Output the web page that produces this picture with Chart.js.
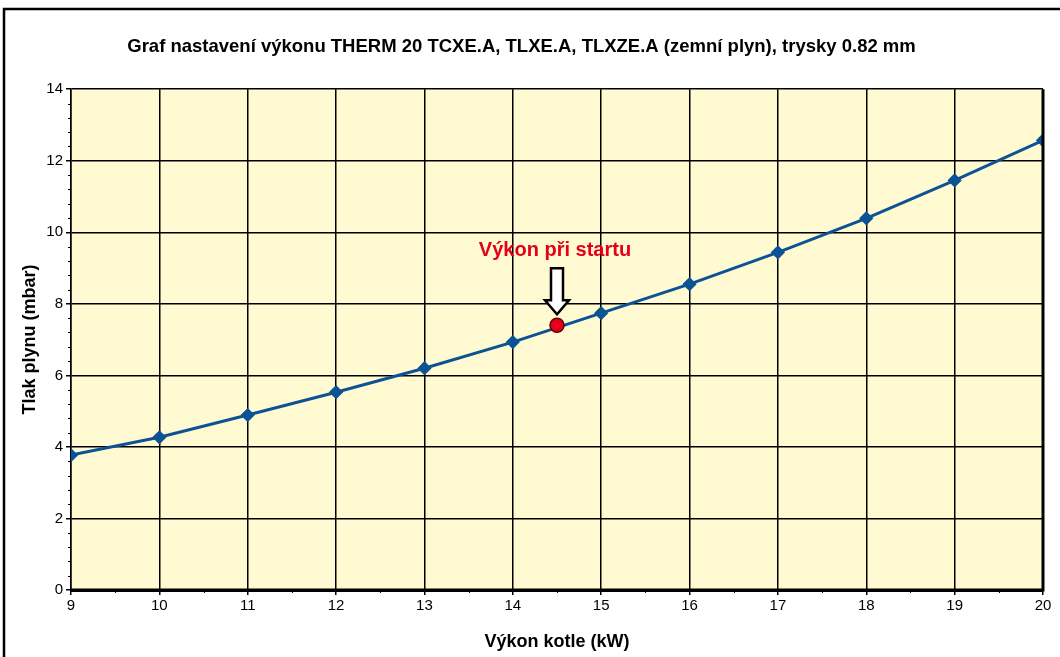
<!DOCTYPE html>
<html>
<head>
<meta charset="utf-8">
<script src="https://cdn.jsdelivr.net/npm/chart.js@4.4.1/dist/chart.umd.min.js"></script>
<style>
  html, body { margin: 0; padding: 0; background: #fff; }
  #wrap { width: 1060px; height: 657px; }
</style>
</head>
<body>
<div id="wrap"><canvas id="powerChart" width="1060" height="657"></canvas></div>
<script>
// boiler output (kW) vs. gas pressure (mbar)
const powerKw = [9, 10, 11, 12, 13, 14, 15, 16, 17, 18, 19, 20];
const pressureMbar = [3.77, 4.27, 4.89, 5.53, 6.20, 6.93, 7.74, 8.55, 9.44, 10.39, 11.45, 12.57];

// start-up setting point
const startKw = [14.5];
const startMbar = [7.4];
const startLabel = "Výkon při startu";

const titleText = "Graf nastavení výkonu THERM 20 TCXE.A, TLXE.A, TLXZE.A (zemní plyn), trysky 0.82 mm";
const xTitle = "Výkon kotle (kW)";
const yTitle = "Tlak plynu (mbar)";

const FONT = "Arial, 'Liberation Sans', sans-serif";

// frame, plot background, minor ticks and start arrow
const decorPlugin = {
  id: "decor",
  beforeDraw(chart) {
    const { ctx, chartArea: a } = chart;
    ctx.save();
    ctx.fillStyle = "#fff";
    ctx.fillRect(0, 0, chart.width, chart.height);
    ctx.strokeStyle = "#000";
    ctx.lineWidth = 2.5;
    ctx.beginPath();
    ctx.moveTo(4, chart.height + 5);
    ctx.lineTo(4, 9);
    ctx.lineTo(chart.width + 5, 9);
    ctx.stroke();
    ctx.fillStyle = "#FFFAD2";
    ctx.fillRect(a.left, a.top, a.right - a.left, a.bottom - a.top);
    ctx.restore();
  },
  afterDraw(chart) {
    const { ctx, chartArea: a, scales } = chart;
    const x = scales.x, y = scales.y;
    ctx.save();
    ctx.strokeStyle = "#000";
    ctx.lineWidth = 1;
    // minor ticks on y (0.4 mbar) and x (0.5 kW)
    ctx.beginPath();
    for (let i = 0; i <= 35; i++) {
      if (i % 5 === 0) continue;
      const py = Math.round(y.getPixelForValue(i * 0.4)) + 0.5;
      ctx.moveTo(a.left - 3, py);
      ctx.lineTo(a.left, py);
    }
    for (let i = 0; i <= 22; i++) {
      if (i % 2 === 0) continue;
      const px = Math.round(x.getPixelForValue(9 + i * 0.5)) + 0.5;
      ctx.moveTo(px, a.bottom);
      ctx.lineTo(px, a.bottom + 3);
    }
    ctx.stroke();
    // heavier right and bottom plot edges
    ctx.lineWidth = 3;
    ctx.beginPath();
    ctx.moveTo(a.right, a.top);
    ctx.lineTo(a.right, a.bottom);
    ctx.lineTo(a.left, a.bottom);
    ctx.stroke();

    // hollow arrow pointing at the start-up point
    const cx = x.getPixelForValue(startKw[0]);
    const cy = y.getPixelForValue(startMbar[0]);
    const tip = cy - 11, headTop = tip - 14, shaftTop = tip - 46;
    ctx.beginPath();
    ctx.moveTo(cx - 6, shaftTop);
    ctx.lineTo(cx + 6, shaftTop);
    ctx.lineTo(cx + 6, headTop);
    ctx.lineTo(cx + 12, headTop);
    ctx.lineTo(cx, tip);
    ctx.lineTo(cx - 12, headTop);
    ctx.lineTo(cx - 6, headTop);
    ctx.closePath();
    ctx.fillStyle = "#fff";
    ctx.fill();
    ctx.lineWidth = 2.5;
    ctx.lineJoin = "miter";
    ctx.stroke();

    ctx.fillStyle = "#E3001B";
    ctx.font = "bold 20px " + FONT;
    ctx.textAlign = "center";
    ctx.textBaseline = "middle";
    ctx.fillText(startLabel, cx - 2, cy - 75);
    ctx.restore();
  }
};

new Chart(document.getElementById("powerChart"), {
  type: "line",
  data: {
    datasets: [
      {
        label: "Tlak",
        data: powerKw.map((v, i) => ({ x: v, y: pressureMbar[i] })),
        borderColor: "#0B5394",
        backgroundColor: "#0B5394",
        borderWidth: 3,
        pointStyle: "rectRot",
        pointRadius: 5,
        pointHoverRadius: 5,
        tension: 0,
        order: 2
      },
      {
        label: startLabel,
        data: startKw.map((v, i) => ({ x: v, y: startMbar[i] })),
        showLine: false,
        pointStyle: "circle",
        pointRadius: 7,
        pointHoverRadius: 7,
        backgroundColor: "#E3001B",
        borderColor: "#600000",
        borderWidth: 1.5,
        order: 1
      }
    ]
  },
  options: {
    responsive: false,
    animation: false,
    events: [],
    layout: { padding: { top: 10, right: 17, left: 0, bottom: 0 } },
    plugins: {
      legend: { display: false },
      tooltip: { enabled: false },
      title: {
        display: true,
        text: titleText,
        color: "#000",
        font: { family: FONT, size: 18.5, weight: "bold" },
        padding: { top: 26, bottom: 31 }
      }
    },
    scales: {
      x: {
        type: "linear",
        min: 9,
        max: 20,
        afterFit(scale) { scale.height = 67; },
        ticks: {
          stepSize: 1,
          color: "#000",
          padding: 2,
          font: { family: FONT, size: 15 }
        },
        grid: { color: "#000", lineWidth: 1.5, tickLength: 5, tickColor: "#000" },
        border: { color: "#000", width: 3 },
        title: {
          display: true,
          text: xTitle,
          color: "#000",
          font: { family: FONT, size: 18, weight: "bold" },
          padding: { top: 12 }
        }
      },
      y: {
        min: 0,
        max: 14,
        afterFit(scale) { scale.width = 71; },
        ticks: {
          stepSize: 2,
          color: "#000",
          padding: 3,
          font: { family: FONT, size: 15 }
        },
        grid: { color: "#000", lineWidth: 1.5, tickLength: 5, tickColor: "#000" },
        border: { color: "#000", width: 1.5 },
        title: {
          display: true,
          text: yTitle,
          color: "#000",
          font: { family: FONT, size: 18, weight: "bold" },
          padding: { top: 19, bottom: 0 }
        }
      }
    }
  },
  plugins: [decorPlugin]
});
</script>
</body>
</html>
